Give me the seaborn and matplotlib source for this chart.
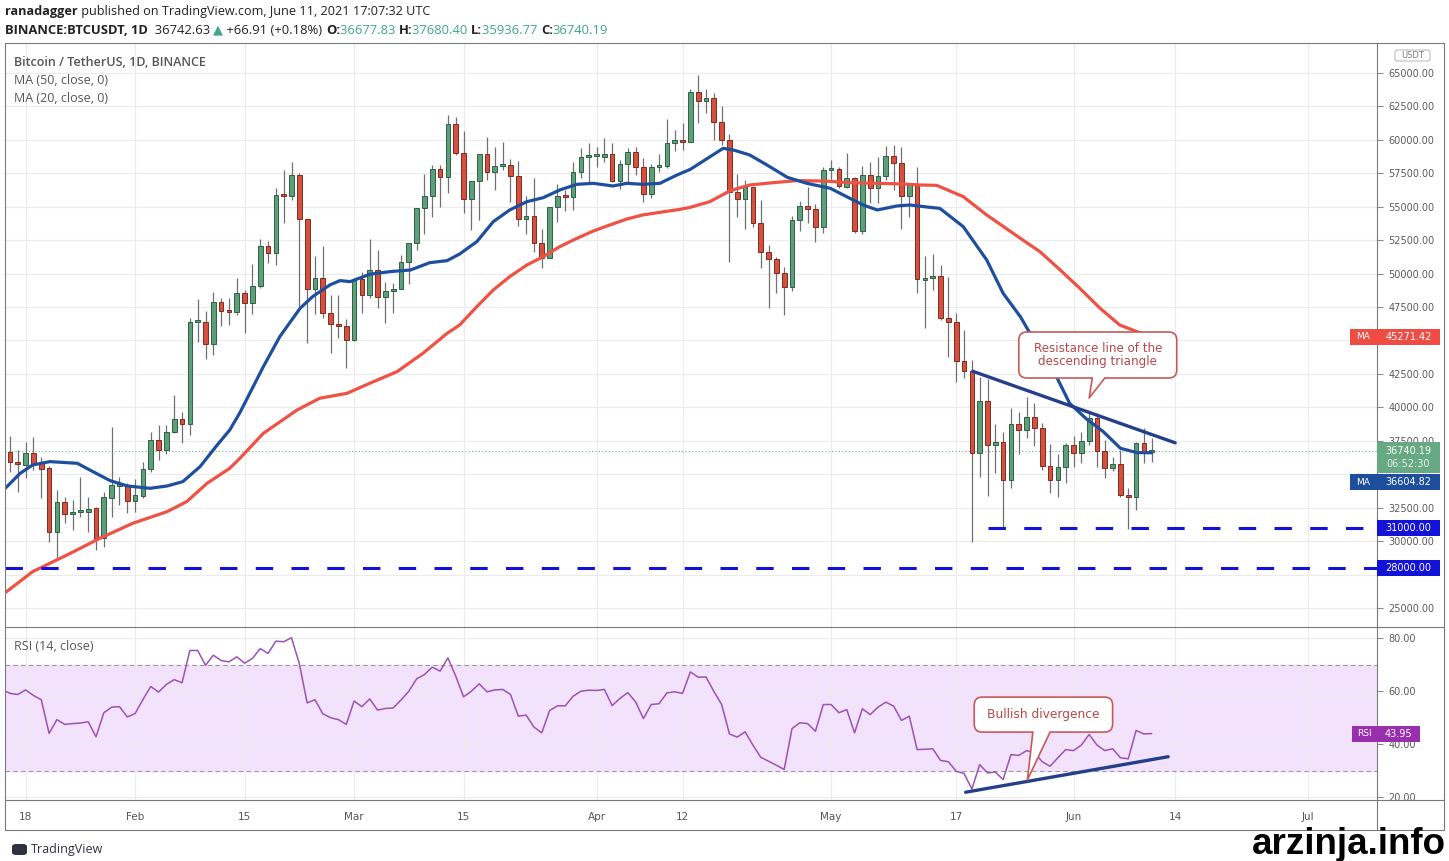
import numpy as np
import pandas as pd
import matplotlib
matplotlib.use('Agg')
import matplotlib.pyplot as plt
import seaborn as sns
from matplotlib.patches import FancyBboxPatch, Polygon, Rectangle
from matplotlib.lines import Line2D
from matplotlib.transforms import IdentityTransform

# ---------------- data (BTC/USDT daily, from 2021-01-16) ----------------
start_date = '2021-01-16'

opens = [36690, 35917, 35693, 36565, 35868, 35444, 30709, 32902, 32005, 32155,
         32155, 32454, 30260, 33250, 34150, 34197, 33026, 33400, 35369, 37562,
         36814, 38135, 39132, 38733, 46359, 46409, 44739, 47904, 47231, 47106,
         48578, 47830, 49076, 52091, 51518, 55879, 55804, 57375, 54060, 48827,
         49650, 47033, 46210, 46085, 45039, 49575, 48403, 50271, 48279, 48727,
         48827, 50894, 52315, 54882, 55804, 57798, 57200, 61187, 58994, 55555,
         56926, 58919, 57624, 58060, 58122, 57300, 54085, 54309, 52266, 51195,
         55007, 55805, 55730, 57624, 58745, 58770, 58720, 58969, 56951, 58172,
         59119, 57948, 55954, 57997, 58072, 59742, 59991, 59817, 63555, 62931,
         63156, 61362, 59991, 56128, 55555, 56452, 53761, 51643, 51070, 50023,
         49026, 54010, 55057, 54808, 53512, 57748, 57798, 56502, 57175, 53188,
         57374, 56378, 57300, 58820, 58247, 55804, 56627, 49524, 49649, 49823,
         46708, 46410, 43494, 42745, 36616, 40503, 37189, 37438, 34572, 38759,
         38310, 39257, 38435, 35619, 34572, 35569, 37189, 36616, 37488, 39183,
         36765, 35445, 35768, 33451, 33276, 37313, 36677.83]

highs = [37886, 36814, 37388, 37810, 36316, 35600, 33824, 33325, 33076, 34820,
         33325, 32530, 33700, 38559, 34820, 34322, 34622, 35943, 38185, 38684,
         38684, 40926, 39680, 46658, 48078, 47231, 48651, 48155, 48155, 49650,
         48800, 50721, 52565, 52465, 56377, 57748, 58371, 57500, 54100, 51319,
         52066, 48403, 48403, 46575, 49650, 50147, 52565, 51767, 49400, 49276,
         51394, 52315, 54882, 57425, 58122, 58122, 61860, 61735, 60664, 56926,
         58950, 60240, 59492, 59866, 58545, 58421, 55805, 57175, 53313, 55007,
         56677, 56253, 58371, 59368, 59742, 59492, 60165, 59742, 58496, 59368,
         59492, 58620, 58172, 58919, 61536, 60739, 61237, 63804, 64850, 63779,
         63529, 62533, 60439, 57449, 57000, 56502, 55505, 52141, 51269, 50521,
         54309, 55455, 56452, 55207, 57948, 58496, 57997, 58994, 57250, 58047,
         58371, 58695, 59542, 59617, 59492, 56752, 57948, 51318, 51468, 50646,
         49723, 47032, 45786, 43543, 42298, 42098, 38759, 38186, 39930, 39679,
         40802, 40353, 38858, 37264, 36516, 37314, 37862, 38186, 39556, 39556,
         37563, 36316, 36815, 33950, 37438, 38435, 37680.40]

lows = [35194, 33700, 34696, 35319, 33250, 29962, 28765, 31332, 30834, 31830,
        30709, 29338, 29587, 31830, 32704, 32080, 32205, 33200, 35200, 36067,
        36500, 38050, 37313, 37936, 44913, 43593, 43917, 46085, 46160, 46900,
        45537, 47000, 48900, 50820, 50646, 53811, 55500, 47581, 44790, 46983,
        46700, 44042, 45200, 42921, 44950, 47033, 48150, 47400, 46285, 47033,
        48827, 49226, 51767, 52963, 54259, 54957, 56054, 58900, 54558, 53263,
        54010, 57000, 56253, 57748, 55381, 53562, 52939, 51643, 50397, 51195,
        53886, 54683, 54758, 57125, 56876, 58000, 58371, 56826, 56328, 56876,
        57374, 55381, 55630, 57624, 57873, 59169, 59244, 59817, 61287, 61984,
        59991, 59617, 50895, 54259, 53312, 53512, 50397, 47406, 48578, 46908,
        48727, 53213, 53761, 52391, 53013, 57001, 56378, 56378, 53063, 52939,
        55256, 55256, 57001, 56253, 53312, 54259, 48578, 45911, 48777, 46500,
        43793, 41924, 42170, 29962, 34772, 33376, 35070, 30959, 33950, 36491,
        37687, 37114, 35320, 33575, 33326, 34323, 35569, 35843, 37189, 35569,
        34697, 35270, 33276, 30909, 32330, 35843, 35936.77]

closes = [35893, 35743, 36565, 35768, 35394, 30709, 32902, 32005, 32155, 32200,
          32429, 30260, 33275, 34197, 34200, 33026, 33450, 35419, 37562, 36814,
          38185, 39132, 38733, 46359, 46409, 44739, 47904, 47231, 47106, 48578,
          47830, 49101, 52091, 51518, 55879, 55829, 57375, 54060, 48827, 49650,
          47033, 46210, 46085, 45039, 49575, 48403, 50271, 48279, 48702, 48851,
          50894, 52315, 54882, 55804, 57798, 57200, 61187, 58994, 55555, 56926,
          58919, 57624, 58022, 58097, 57300, 54060, 54309, 52266, 51195, 55007,
          55805, 55730, 57624, 58745, 58770, 58790, 58969, 56951, 58172, 59119,
          57948, 55954, 57997, 58072, 59742, 59991, 59817, 63555, 62931, 63156,
          61362, 59991, 56128, 55555, 56452, 53761, 51643, 51070, 50023, 49026,
          54010, 55057, 54808, 53512, 57748, 57798, 56552, 57175, 53188, 57374,
          56378, 57300, 58820, 58247, 55804, 56627, 49575, 49649, 49823, 46708,
          46410, 43494, 42745, 36616, 40503, 37189, 37438, 34572, 38759, 38310,
          39257, 38435, 35619, 34572, 35569, 37189, 36616, 37488, 39183, 36765,
          35445, 35768, 33451, 33276, 37363, 36676, 36740.19]

# moving averages (day offset from start_date, value)
ma20_days = [-0.6, 1.3, 2.9, 5.1, 8.6, 10.6, 12.8, 15.0, 17.9, 20.1, 22.1, 24.3, 26.5, 28.1,
             29.4, 32.4, 34.5, 37.1, 38.7, 40.9, 42.2, 43.5, 46.0, 48.6, 51.2, 53.7, 55.9,
             57.5, 58.8, 59.7, 61.8, 63.9, 66.1, 68.2, 70.3, 72.5, 74.6, 77.1, 78.9, 80.9,
             83.1, 85.3, 87.0, 89.4, 91.2, 92.5, 94.6, 96.8, 99.4, 101.9, 104.9, 107.4,
             109.1, 110.9, 113.4, 115.1, 117.6, 118.9, 121.9, 124.9, 127.0, 129.2, 131.3,
             133.4, 135.5, 137.7, 139.8, 142.0, 144.1, 146.0]
ma20_vals = [33950, 35070, 35693, 35943, 35818, 35194, 34522, 34123, 33948, 34123, 34447,
             35568, 37188, 38310, 39605, 43044, 45287, 47410, 48280, 49150, 49476, 49400,
             49950, 50150, 50270, 50820, 50970, 51467, 52017, 52391, 53886, 54758, 55381,
             55680, 56253, 56677, 56752, 56553, 56752, 56677, 56752, 57374, 57798, 58695,
             59368, 59243, 58870, 58122, 57200, 56751, 56378, 55630, 55132, 54758, 55057,
             55132, 54957, 54882, 53511, 51019, 48527, 46783, 44665, 42796, 40304, 39108,
             38186, 36940, 36616, 36604.82]

ma50_days = [-0.6, 2.9, 7.3, 11.5, 15.7, 20.1, 22.6, 25.2, 28.1, 29.4, 32.4, 36.7, 39.6,
             43.1, 46.0, 49.5, 52.8, 55.9, 57.5, 59.7, 61.8, 63.9, 66.1, 68.2, 70.3, 72.5,
             74.6, 76.7, 78.9, 80.9, 83.1, 85.7, 87.0, 89.5, 92.1, 94.6, 97.6, 100.6, 104.0,
             107.4, 110.9, 114.2, 116.4, 118.5, 121.9, 124.9, 129.2, 131.7, 134.3, 136.8,
             139.4, 141.9, 144.1, 146.0]
ma50_vals = [26150, 27718, 28965, 30211, 31332, 32205, 32953, 34323, 35445, 36192, 38060,
             39800, 40679, 41052, 41800, 42672, 44042, 45537, 46160, 47531, 48777, 49774,
             50646, 51269, 52017, 52640, 53188, 53636, 54085, 54384, 54583, 54808, 54957,
             55381, 56203, 56627, 56801, 56951, 56926, 56801, 56751, 56700, 56626, 56600,
             55755, 54384, 52640, 51642, 50271, 48901, 47406, 46160, 45662, 45271.42]

# RSI(14), one value per day starting the day before start_date
rsi_vals = [60.6, 59.1, 58.7, 60.4, 58.3, 56.7, 44.0, 49.2, 47.4, 47.7, 47.9,
            48.4, 42.7, 51.8, 53.9, 54.1, 50.2, 51.5, 56.8, 61.7, 59.6,
            62.5, 64.3, 63.1, 75.3, 75.3, 69.7, 73.5, 71.5, 71.0, 72.9,
            70.5, 72.3, 76.0, 74.2, 78.8, 78.6, 80.1, 70.3, 55.5, 56.7,
            51.4, 49.9, 49.2, 47.4, 56.2, 54.1, 57.0, 52.8, 53.4, 53.6,
            56.6, 59.9, 64.6, 66.2, 69.0, 67.5, 72.5, 65.6, 57.8, 59.9,
            62.7, 59.7, 60.4, 60.6, 58.7, 50.5, 50.9, 46.4, 44.2, 52.6,
            54.4, 54.4, 58.0, 59.9, 60.3, 60.2, 60.6, 54.5, 57.2, 59.4,
            55.9, 49.6, 54.9, 55.2, 59.3, 59.7, 59.1, 67.2, 65.2, 65.3,
            59.9, 54.9, 43.8, 42.6, 44.6, 39.6, 35.0, 33.5, 32.0, 30.4,
            45.8, 48.0, 47.7, 44.8, 54.9, 54.9, 51.8, 53.0, 44.2, 53.3,
            51.1, 53.9, 55.8, 54.3, 48.9, 50.5, 37.9, 38.0, 38.2, 33.8,
            33.3, 29.7, 28.9, 23.0, 32.2, 29.1, 29.4, 26.6, 36.0, 35.7,
            37.5, 36.7, 33.3, 31.6, 34.8, 37.9, 37.5, 39.6, 43.6, 39.6,
            37.5, 38.2, 34.8, 34.4, 45.1, 43.8, 43.95]

# drawn annotations
resist_days = [123.1, 149.0]
resist_vals = [42700, 37350]
diverg_days = [122.2, 148.1]
diverg_vals = [21.8, 35.2]
support_vals = [31000, 28000]
support_from = [125.1, None]

tick_dates = ['2021-01-18', '2021-02-01', '2021-02-15', '2021-03-01', '2021-03-15', '2021-04-01',
              '2021-04-12', '2021-05-01', '2021-05-17', '2021-06-01', '2021-06-14', '2021-07-01']
tick_labels = ['18', 'Feb', '15', 'Mar', '15', 'Apr', '12', 'May', '17', 'Jun', '14', 'Jul']

last_close = 36740.19
last_ma50 = 45271.42
last_ma20 = 36604.82
last_rsi = 43.95

# price scale labels hidden behind the coloured tags in the reference
hidden_ticks = [45000, 35000, 27500]

# ---------------- style ----------------
sns.set_style('white')
plt.rcParams['font.family'] = ['DejaVu Sans']
UI_FONT = ['Open Sans', 'DejaVu Sans']

GREEN, GREEN_EDGE = '#5d9f79', '#2f5f44'
RED, RED_EDGE = '#d5513f', '#7f2b20'
MA20_COL, MA50_COL = '#1e4f9e', '#ef5245'
NAVY = '#233f8a'
LINE_BLUE = '#1212d8'
RSI_COL = '#9c52b4'
CALLOUT = '#c65a59'
TEAL = '#3fa58c'
FRAME = '#7a7a7a'

W, H = 1449, 861
fig = plt.figure(figsize=(W / 100, H / 100), dpi=100)


def fx(px):
    return px / W


def fy(py):
    return 1 - py / H


PL, PR, PT, PM, PB, FB, FR = 5, 1377, 43, 627, 800, 830, 1444
ax = fig.add_axes([fx(PL), fy(PM), fx(PR) - fx(PL), fy(PT) - fy(PM)])
ax_rsi = fig.add_axes([fx(PL), fy(PB), fx(PR) - fx(PL), fy(PM) - fy(PB)])

# scales matched to the reference (7.82 px per day, 13.375 px per 1000 USDT)
x_lim = ((PL - 10) / 7.82, (PR - 10) / 7.82)
y_lim = (65000 - (PM - 73) * 74.77, 65000 + (73 - PT) * 74.77)
r_lim = (80 - (PB - 638) / 2.65, 80 + (638 - PM) / 2.65)

# ---------------- candles ----------------
o = np.array(opens, float)
h = np.array(highs, float)
l = np.array(lows, float)
c = np.array(closes, float)
days = np.arange(len(c))
up = c >= o
bottom = np.minimum(o, c)
height = np.maximum(np.abs(c - o), 150)

ax.vlines(days, l, h, color='#707070', lw=0.9, zorder=2)
ax.bar(days[up], height[up], bottom=bottom[up], width=0.6, color=GREEN,
       edgecolor=GREEN_EDGE, linewidth=0.7, zorder=3)
ax.bar(days[~up], height[~up], bottom=bottom[~up], width=0.6, color=RED,
       edgecolor=RED_EDGE, linewidth=0.7, zorder=3)

line_kw = dict(sort=False, estimator=None, solid_joinstyle='round', solid_capstyle='round')
sns.lineplot(x=ma50_days, y=ma50_vals, ax=ax, color=MA50_COL, linewidth=2.3, zorder=4, **line_kw)
sns.lineplot(x=ma20_days, y=ma20_vals, ax=ax, color=MA20_COL, linewidth=2.3, zorder=4, **line_kw)
sns.lineplot(x=resist_days, y=resist_vals, ax=ax, color=NAVY, linewidth=2.4, zorder=5, **line_kw)

for val, frm in zip(support_vals, support_from):
    x0 = x_lim[0] if frm is None else frm
    ax.plot([x0, x_lim[1]], [val, val], color=LINE_BLUE, lw=2.2,
            dashes=(5.7, 6), zorder=5)

ax.axhline(last_close, color='#6aa886', ls=(0, (1, 2)), lw=0.8, zorder=1)

# ---------------- RSI ----------------
rsi_days = np.arange(-1, len(rsi_vals) - 1)
ax_rsi.axhspan(30, 70, color='#f3e2fc', zorder=0)
ax_rsi.axhline(70, color='#9a9a9a', ls=(0, (4, 3)), lw=0.8, zorder=1)
ax_rsi.axhline(30, color='#9a9a9a', ls=(0, (4, 3)), lw=0.8, zorder=1)
sns.lineplot(x=rsi_days, y=rsi_vals, ax=ax_rsi, color=RSI_COL, linewidth=1.1, zorder=3, **line_kw)
sns.lineplot(x=diverg_days, y=diverg_vals, ax=ax_rsi, color=NAVY, linewidth=2.4, zorder=4, **line_kw)

# ---------------- axes cosmetics ----------------
start = pd.Timestamp(start_date)
tick_pos = [(pd.Timestamp(t) - start).days for t in tick_dates]

for a in (ax, ax_rsi):
    a.set_xlim(*x_lim)
    a.set_xticks(tick_pos)
    a.grid(True, color='#ebebeb', lw=0.8)
    a.set_axisbelow(True)
    a.set_xlabel('')
    a.set_ylabel('')
    a.yaxis.tick_right()
    for s in a.spines.values():
        s.set_visible(False)

ax.set_ylim(*y_lim)
price_ticks = np.arange(25000, 65001, 2500)
ax.set_yticks(price_ticks)
ax.set_yticklabels(['' if v in hidden_ticks else f'{v:.2f}' for v in price_ticks])
ax.tick_params(axis='x', labelbottom=False, length=0)
ax.tick_params(axis='y', length=4, color='#8a8a8a', labelsize=7,
               labelcolor='#5a5a5a', pad=4)

ax_rsi.set_ylim(*r_lim)
ax_rsi.set_yticks([20, 40, 60, 80])
ax_rsi.set_yticklabels(['20.00', '40.00', '60.00', '80.00'])
ax_rsi.set_xticklabels(tick_labels)
ax_rsi.tick_params(axis='y', length=4, color='#8a8a8a', labelsize=7,
                   labelcolor='#5a5a5a', pad=4)
ax_rsi.tick_params(axis='x', length=3, color='#8a8a8a', labelsize=7.5,
                   labelcolor='#555555', pad=6)

# frame lines
for (xa, ya, xb, yb) in [(PL, PT, FR, PT), (PL, PT, PL, FB), (FR, PT, FR, FB),
                         (PL, FB, FR, FB), (PL, PM, FR, PM), (PL, PB, FR, PB),
                         (PR, PT, PR, FB)]:
    fig.add_artist(Line2D([fx(xa), fx(xb)], [fy(ya), fy(yb)], transform=fig.transFigure,
                          color=FRAME, lw=0.8, zorder=1))

fig.canvas.draw()
renderer = fig.canvas.get_renderer()


def px_of(axis, x, y):
    X, Y = axis.transData.transform((x, y))
    return X, H - Y


def callout(axis, box_x, box_y, base_x, tip, text, fs):
    x0, y0 = px_of(axis, box_x[0], box_y[0])
    x1, y1 = px_of(axis, box_x[1], box_y[1])
    bx0, _ = px_of(axis, base_x[0], box_y[1])
    bx1, _ = px_of(axis, base_x[1], box_y[1])
    tx, ty = px_of(axis, tip[0], tip[1])
    fig.add_artist(FancyBboxPatch((x0, H - y1), x1 - x0, y1 - y0,
                                  boxstyle='round,pad=0,rounding_size=8',
                                  transform=IdentityTransform(), fc='white',
                                  ec=CALLOUT, lw=1.2, zorder=6))
    fig.add_artist(Polygon([(bx0 + 1, H - y1 + 2.5), (bx0, H - y1), (tx, H - ty),
                            (bx1, H - y1), (bx1 - 1, H - y1 + 2.5)],
                           transform=IdentityTransform(), fc='white', ec='none', zorder=7))
    fig.add_artist(Line2D([bx0, tx, bx1], [H - y1, H - ty, H - y1],
                          transform=IdentityTransform(), color=CALLOUT, lw=1.2, zorder=8))
    fig.text(fx((x0 + x1) / 2), fy((y0 + y1) / 2), text, ha='center', va='center',
             color='#b8474a', fontsize=fs, linespacing=0.95, zorder=9)


callout(ax, (129.0, 149.2), (45634, 42195), (138.4, 140.0), (138.0, 40700),
        'Resistance line of the\ndescending triangle', 8.6)
callout(ax_rsi, (123.3, 141.0), (57.7, 44.5), (130.8, 133.0), (130.1, 26.4),
        'Bullish divergence', 8.8)


# ---------------- right-axis price tags ----------------
def tag(y_px, text, fc, x0=PR, x1=1440, hgt=16, fs=7, tc='white'):
    fig.add_artist(Rectangle((fx(x0), fy(y_px + hgt / 2)), fx(x1) - fx(x0), hgt / H,
                             transform=fig.transFigure, fc=fc, ec='none', zorder=10))
    fig.text(fx((x0 + x1) / 2), fy(y_px), text, ha='center', va='center',
             color=tc, fontsize=fs, zorder=11)


y_ma50 = px_of(ax, 0, last_ma50)[1]
y_last = px_of(ax, 0, last_close)[1]
y_rsi = px_of(ax_rsi, 0, last_rsi)[1]

tag(y_ma50, f'{last_ma50:.2f}', '#ef4d43')
tag(y_ma50, 'MA', '#ef4d43', x0=1350, x1=PR, fs=6.5)

# last price with countdown
fig.add_artist(Rectangle((fx(PR), fy(y_last + 22)), fx(1440) - fx(PR), 31 / H,
                         transform=fig.transFigure, fc='#67a983', ec='none', zorder=10))
fig.text(fx(1408.5), fy(y_last), f'{last_close:.2f}', ha='center', va='center',
         color='white', fontsize=7, zorder=11)
fig.text(fx(1408.5), fy(y_last + 13.5), '06:52:30', ha='center', va='center',
         color='#e4f1e9', fontsize=7, zorder=11)

y_ma20 = y_last + 31.5
tag(y_ma20, f'{last_ma20:.2f}', '#1e4f9e')
tag(y_ma20, 'MA', '#1e4f9e', x0=1350, x1=PR, fs=6.5)

for val in support_vals:
    tag(px_of(ax, 0, val)[1], f'{val:.2f}', LINE_BLUE)

tag(y_rsi, f'{last_rsi:.2f}', '#9a2fae', x1=1420)
tag(y_rsi, 'RSI', '#9a2fae', x0=1352, x1=PR, fs=6.5)

# USDT unit box
fig.add_artist(FancyBboxPatch((fx(1395), fy(61)), fx(1430) - fx(1395), 11 / H,
                              boxstyle='round,pad=0,rounding_size=0.002',
                              transform=fig.transFigure, fc='white', ec='#b5b5b5',
                              lw=0.7, zorder=10))
fig.text(fx(1412.5), fy(55.5), 'USDT', ha='center', va='center', color='#777777',
         fontsize=6, zorder=11)

# ---------------- texts ----------------
fig.text(fx(14), fy(62), 'Bitcoin / TetherUS, 1D, BINANCE', family=UI_FONT,
         fontweight='semibold', color='#555555', fontsize=9, va='center')
fig.text(fx(14), fy(81), 'MA (50, close, 0)', family=UI_FONT, color='#555555',
         fontsize=9, va='center')
fig.text(fx(14), fy(99), 'MA (20, close, 0)', family=UI_FONT, color='#555555',
         fontsize=9, va='center')
fig.text(fx(14), fy(647), 'RSI (14, close)', family=UI_FONT, color='#555555',
         fontsize=9, va='center')


def run(x_px, y_px, pieces, size):
    x = fx(x_px)
    for s, col, wt in pieces:
        t = fig.text(x, fy(y_px), s, color=col, fontweight=wt, fontsize=size,
                     family=UI_FONT, va='center', ha='left')
        bb = t.get_window_extent(renderer)
        x = bb.x1 / W


run(5, 11, [('ranadagger', '#222222', 'bold'),
            (' published on TradingView.com, June 11, 2021 17:07:32 UTC', '#222222', 'normal')], 9.1)
run(5, 30, [('BINANCE:BTCUSDT, 1D', '#222222', 'bold'),
            ('  36742.63 ', '#222222', 'normal'), ('▲', TEAL, 'normal'),
            (' +66.91 (+0.18%) ', '#222222', 'normal'),
            ('O:', '#222222', 'bold'), ('36677.83 ', TEAL, 'normal'),
            ('H:', '#222222', 'bold'), ('37680.40 ', TEAL, 'normal'),
            ('L:', '#222222', 'bold'), ('35936.77 ', TEAL, 'normal'),
            ('C:', '#222222', 'bold'), ('36740.19', TEAL, 'normal')], 9.4)

# footer
fig.add_artist(FancyBboxPatch((fx(12), fy(855)), fx(15), 11 / H,
                              boxstyle='round,pad=0,rounding_size=0.003',
                              transform=fig.transFigure, fc='#2f3241', ec='none'))
fig.text(fx(31), fy(850), 'TradingView', family=UI_FONT, color='#2f3241',
         fontsize=9, va='center', ha='left')
fig.text(fx(1446), fy(845), 'arzinja.info', family=['Liberation Sans', 'DejaVu Sans'],
         fontweight='bold', color='black', fontsize=26.5, va='center', ha='right')

fig.savefig('out.png', dpi=100)
